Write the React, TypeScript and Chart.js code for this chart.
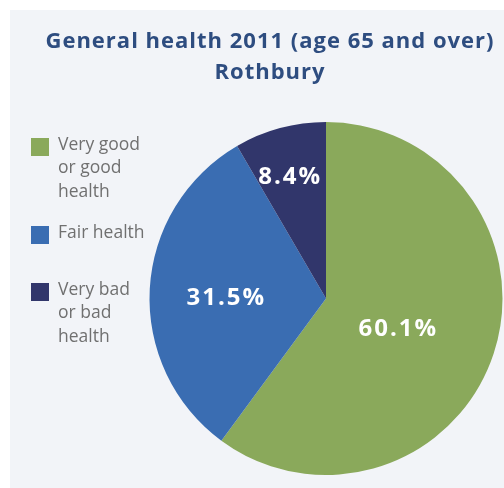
import React, { useEffect, useRef } from "react";
import { Chart, registerables } from "chart.js";

Chart.register(...registerables);

const TITLE_LINES = ["General health 2011 (age 65 and over)", "Rothbury"];
const CATEGORIES = ["Very good\nor good\nhealth", "Fair health", "Very bad\nor bad\nhealth"];
const VALUES = [60.1, 31.5, 8.4];
const COLORS = ["#8aa95b", "#3a6db2", "#31366b"];
// value-label placement (style only): radial fraction of pie radius and angular nudge (radians)
const LABEL_RADIUS = [0.44, 0.57, 0.72];
const LABEL_ANGLE_SHIFT = [0.087, -0.054, -0.03];

const FONT = "'Open Sans', 'Noto Sans', sans-serif";

const backgroundPlugin = {
  id: "bg",
  beforeDraw(chart: any) {
    const { ctx, width, height } = chart;
    ctx.save();
    ctx.fillStyle = "#ffffff";
    ctx.fillRect(0, 0, width, height);
    ctx.fillStyle = "#f2f4f8";
    ctx.fillRect(10, 10, width - 10, height - 10);
    ctx.restore();
  },
};

const titlePlugin = {
  id: "customTitle",
  afterDraw(chart: any) {
    const { ctx } = chart;
    ctx.save();
    ctx.fillStyle = "#2e4d80";
    ctx.font = `bold 22px ${FONT}`;
    (ctx as any).letterSpacing = "1px";
    ctx.textAlign = "center";
    ctx.textBaseline = "middle";
    TITLE_LINES.forEach((line, i) => ctx.fillText(line, 270, 42 + i * 31));
    ctx.restore();
  },
};

const legendPlugin = {
  id: "customLegend",
  afterDraw(chart: any) {
    const { ctx } = chart;
    const labels: string[] = chart.data.labels;
    const colors: string[] = chart.data.datasets[0].backgroundColor;
    const tops = [145, 233, 290];
    ctx.save();
    ctx.font = `17.5px ${FONT}`;
    ctx.textAlign = "left";
    ctx.textBaseline = "middle";
    labels.forEach((lab, i) => {
      const y0 = tops[i];
      ctx.fillStyle = colors[i];
      ctx.fillRect(31, y0 - 7, 18, 18);
      ctx.fillStyle = "#707070";
      lab.split("\n").forEach((line, j) => ctx.fillText(line, 58, y0 + j * 23.5));
    });
    ctx.restore();
  },
};

const valueLabelPlugin = {
  id: "valueLabels",
  afterDatasetsDraw(chart: any) {
    const { ctx } = chart;
    const meta = chart.getDatasetMeta(0);
    ctx.save();
    ctx.fillStyle = "#ffffff";
    ctx.font = `bold 24px ${FONT}`;
    (ctx as any).letterSpacing = "2px";
    ctx.textAlign = "center";
    ctx.textBaseline = "middle";
    meta.data.forEach((arc: any, i: number) => {
      const { x, y, startAngle, endAngle, outerRadius } = arc.getProps(
        ["x", "y", "startAngle", "endAngle", "outerRadius"],
        true
      );
      const mid = (startAngle + endAngle) / 2 + LABEL_ANGLE_SHIFT[i];
      const r = outerRadius * LABEL_RADIUS[i];
      const v = chart.data.datasets[0].data[i];
      ctx.fillText(`${v.toFixed(1)}%`, x + Math.cos(mid) * r + 1, y + Math.sin(mid) * r);
    });
    ctx.restore();
  },
};

export default function App() {
  const ref = useRef<HTMLCanvasElement | null>(null);

  useEffect(() => {
    if (!ref.current) return;
    const chart = new Chart(ref.current, {
      type: "pie",
      data: {
        labels: CATEGORIES,
        datasets: [
          {
            data: VALUES,
            backgroundColor: COLORS,
            borderWidth: 0,
          },
        ],
      },
      options: {
        animation: false,
        responsive: false,
        maintainAspectRatio: false,
        layout: { padding: { left: 149, right: 1, top: 122, bottom: 13 } },
        plugins: {
          legend: { display: false },
          title: { display: false },
          tooltip: { enabled: false },
        },
      },
      plugins: [backgroundPlugin, titlePlugin, legendPlugin, valueLabelPlugin],
    });
    return () => chart.destroy();
  }, []);

  return (
    <div style={{ position: "fixed", left: 0, top: 0, width: 504, height: 488 }}>
      <canvas ref={ref} width={504} height={488} style={{ width: 504, height: 488 }} />
    </div>
  );
}
